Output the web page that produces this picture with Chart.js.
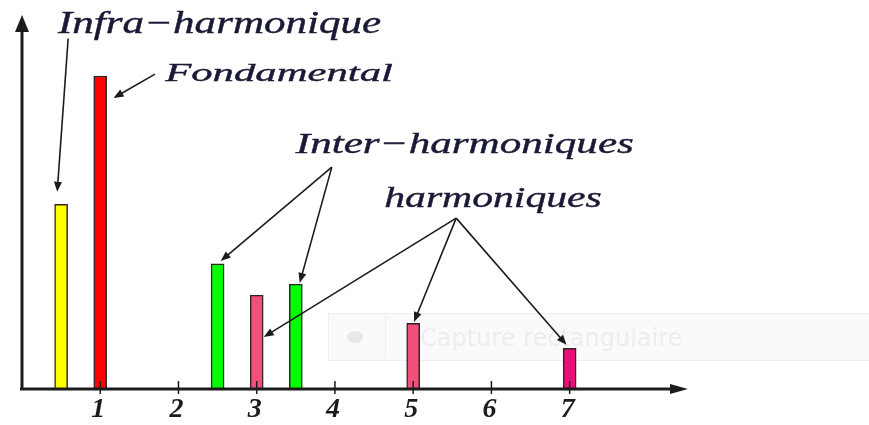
<!DOCTYPE html>
<html>
<head>
<meta charset="utf-8">
<title>Spectre harmonique</title>
<script src="https://cdn.jsdelivr.net/npm/chart.js@4/dist/chart.umd.min.js"></script>
<style>
  html, body { margin: 0; padding: 0; background: #fff; }
  canvas { display: block; }
</style>
</head>
<body>
<canvas id="spectre" width="869" height="425"></canvas>
<script>
// rang harmonique de chaque raie et son amplitude (fondamental = 100)
const rangs = [0.5, 1, 2.5, 3, 3.5, 5, 7];
const amplitudes = [59, 100, 40, 30, 33.5, 21, 13];
const couleurs = ["#ffff00", "#ff0000", "#00ff00", "#f0507a", "#00ff00", "#f0507a", "#e8107a"];
const graduations = [1, 2, 3, 4, 5, 6, 7];

const etiquettes = ["Infra\u2212harmonique", "Fondamental", "Inter\u2212harmoniques", "harmoniques"];
// raies visées par chaque étiquette (indices dans rangs)
const cibles = [[0], [1], [2, 4], [3, 5, 6]];

// placement des étiquettes et des flèches, en unités du graphe
const placement = [
  { x: 0.46, y: 113.7, w: 4.13, size: 31, from: [0.59, 112], off: [[-0.05, 4]] },
  { x: 1.83, y: 98.4, w: 2.91, size: 26, from: [1.70, 100.6], off: [[0.17, -7]] },
  { x: 3.50, y: 75.4, w: 4.32, size: 30, from: [3.96, 70.9], off: [[0.04, 0.9], [0.05, 0.4]] },
  { x: 4.63, y: 58.1, w: 2.78, size: 30, from: [5.55, 54.6], off: [[0.09, -13.4], [0.01, 0.4], [-0.04, 1.1]] }
];

function fleche(ctx, x1, y1, x2, y2, len, half) {
  const a = Math.atan2(y2 - y1, x2 - x1);
  ctx.beginPath();
  ctx.moveTo(x1, y1);
  ctx.lineTo(x2 - Math.cos(a) * len * 0.6, y2 - Math.sin(a) * len * 0.6);
  ctx.stroke();
  ctx.beginPath();
  ctx.moveTo(x2, y2);
  ctx.lineTo(x2 - Math.cos(a) * len - Math.sin(a) * half, y2 - Math.sin(a) * len + Math.cos(a) * half);
  ctx.lineTo(x2 - Math.cos(a) * len + Math.sin(a) * half, y2 - Math.sin(a) * len - Math.cos(a) * half);
  ctx.closePath();
  ctx.fill();
}

function texteAjuste(ctx, txt, x, y, w, size) {
  ctx.font = "italic " + size + "px 'Liberation Serif', serif";
  const m = ctx.measureText(txt).width;
  ctx.save();
  ctx.translate(x, y);
  ctx.scale(w / m, 1);
  ctx.lineWidth = 0.4;
  ctx.strokeStyle = ctx.fillStyle;
  ctx.fillText(txt, 0, 0);
  ctx.strokeText(txt, 0, 0);
  ctx.restore();
}

const decor = {
  id: "decor",
  beforeDatasetsDraw(chart) {
    // bandeau "Capture rectangulaire" très pâle
    const ctx = chart.ctx;
    ctx.save();
    ctx.fillStyle = "rgba(250,250,252,0.9)";
    ctx.strokeStyle = "#eeeef0";
    ctx.lineWidth = 1;
    ctx.fillRect(328, 313, 560, 47);
    ctx.strokeRect(328.5, 313.5, 560, 47);
    ctx.beginPath();
    ctx.moveTo(385.5, 315); ctx.lineTo(385.5, 358);
    ctx.stroke();
    ctx.fillStyle = "#e8e8ea";
    ctx.beginPath();
    ctx.ellipse(355, 337, 8, 6, 0, 0, Math.PI * 2);
    ctx.fill();
    ctx.fillStyle = "#ededef";
    ctx.font = "24px 'DejaVu Sans', sans-serif";
    ctx.textBaseline = "alphabetic";
    ctx.fillText("Capture rectangulaire", 420, 346);
    ctx.restore();
  },
  afterDatasetsDraw(chart) {
    const ctx = chart.ctx;
    const xs = chart.scales.x, ys = chart.scales.y;
    const x0 = xs.getPixelForValue(0), y0 = ys.getPixelForValue(0);
    const area = chart.chartArea;
    ctx.save();
    ctx.strokeStyle = "#1c1c1c";
    ctx.fillStyle = "#1c1c1c";

    // axes avec flèches
    ctx.lineWidth = 3;
    ctx.beginPath();
    ctx.moveTo(x0, y0 + 1); ctx.lineTo(x0, area.top + 14);
    ctx.moveTo(x0 - 2, y0); ctx.lineTo(area.right - 14, y0);
    ctx.stroke();
    ctx.beginPath();
    ctx.moveTo(x0, area.top);
    ctx.lineTo(x0 - 7, area.top + 17);
    ctx.lineTo(x0 + 7, area.top + 17);
    ctx.closePath();
    ctx.fill();
    ctx.beginPath();
    ctx.moveTo(area.right + 1, y0);
    ctx.lineTo(area.right - 17, y0 - 5);
    ctx.lineTo(area.right - 17, y0 + 5);
    ctx.closePath();
    ctx.fill();

    // graduations et leurs chiffres
    ctx.lineWidth = 1.5;
    ctx.font = "italic bold 28px 'Liberation Serif', serif";
    ctx.textAlign = "center";
    ctx.textBaseline = "middle";
    graduations.forEach(g => {
      const px = xs.getPixelForValue(g);
      ctx.beginPath();
      ctx.moveTo(px, y0 - 8); ctx.lineTo(px, y0 + 5);
      ctx.stroke();
      ctx.fillText(String(g), px - 2, y0 + 21);
    });

    // étiquettes et flèches d'annotation
    ctx.textAlign = "left";
    ctx.textBaseline = "alphabetic";
    etiquettes.forEach((txt, i) => {
      const p = placement[i];
      ctx.fillStyle = "#1a1a36";
      texteAjuste(ctx, txt, xs.getPixelForValue(p.x), ys.getPixelForValue(p.y),
        xs.getPixelForValue(p.x + p.w) - xs.getPixelForValue(p.x), p.size);
      ctx.fillStyle = "#1c1c1c";
      ctx.lineWidth = 1.6;
      const fx = xs.getPixelForValue(p.from[0]), fy = ys.getPixelForValue(p.from[1]);
      cibles[i].forEach((k, j) => {
        const tx = xs.getPixelForValue(rangs[k] + p.off[j][0]);
        const ty = ys.getPixelForValue(amplitudes[k] + p.off[j][1]);
        fleche(ctx, fx, fy, tx, ty, 10, 4);
      });
    });
    ctx.restore();
  }
};

new Chart(document.getElementById("spectre"), {
  type: "bar",
  data: {
    datasets: [{
      data: rangs.map((r, i) => ({ x: r, y: amplitudes[i] })),
      backgroundColor: couleurs,
      borderColor: "#302424",
      borderWidth: 1.5,
      borderSkipped: "bottom",
      barThickness: 13
    }]
  },
  options: {
    responsive: false,
    animation: false,
    layout: { padding: { left: 22, right: 182, top: 15, bottom: 36 } },
    plugins: { legend: { display: false }, tooltip: { enabled: false } },
    scales: {
      x: { type: "linear", min: 0, max: 8.5, offset: false, display: false },
      y: { min: 0, max: 119.5, display: false }
    }
  },
  plugins: [decor]
});
</script>
</body>
</html>
